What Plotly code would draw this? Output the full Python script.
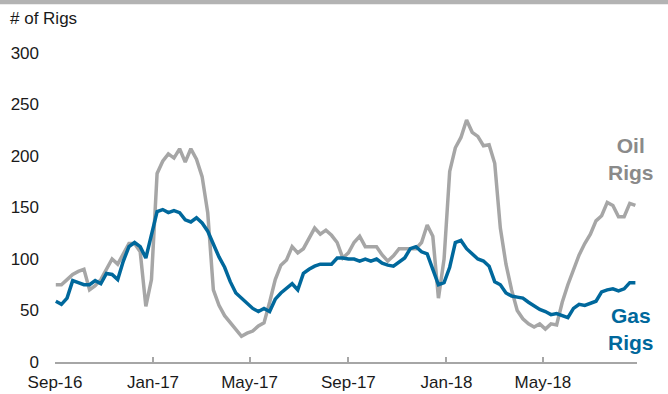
import pandas as pd
import plotly.graph_objects as go

weeks = pd.date_range("2016-09-02", periods=104, freq="7D")

oil_rigs = [
    75, 75, 80, 85, 88, 90, 70, 74, 80, 90, 100, 95, 105, 115, 115, 107, 54, 80,
    183, 195, 202, 198, 207, 194, 207, 197, 180, 145, 70, 55, 45, 38, 32, 25, 28,
    30, 35, 38, 58, 80, 94, 99, 112, 106, 110, 120, 130, 124, 128, 123, 116, 101,
    106, 116, 122, 112, 112, 112, 104, 98, 103, 110, 110, 110, 110, 116, 133, 122,
    62, 100, 185, 208, 218, 235, 223, 219, 210, 211, 193, 130, 95, 70, 50, 42, 37,
    34, 37, 32, 37, 36, 58, 75, 90, 104, 115, 124, 137, 142, 155, 152, 141, 141,
    154, 152,
]

gas_rigs = [
    59, 56, 62, 79, 77, 75, 75, 79, 76, 86, 85, 80, 98, 112, 116, 112, 101, 125,
    146, 148, 145, 147, 145, 138, 136, 140, 135, 127, 114, 102, 92, 78, 67, 62, 56,
    52, 49, 52, 49, 61, 67, 71, 76, 70, 86, 90, 93, 95, 95, 95, 101, 101, 100, 100,
    98, 100, 98, 100, 96, 94, 93, 97, 101, 110, 112, 107, 105, 90, 75, 77, 92, 116,
    118, 110, 105, 100, 98, 93, 78, 75, 67, 64, 63, 62, 58, 54, 51, 49, 46, 47, 45,
    43, 52, 56, 55, 57, 59, 68, 70, 71, 69, 71, 77, 77,
]

y_ticks = [0, 50, 100, 150, 200, 250, 300]
x_ticks = ["2016-09-01", "2017-01-01", "2017-05-01", "2017-09-01", "2018-01-01", "2018-05-01"]
x_labels = ["Sep-16", "Jan-17", "May-17", "Sep-17", "Jan-18", "May-18"]

GRAY = "#A6A6A6"
BLUE = "#00689C"

fig = go.Figure()
fig.add_trace(
    go.Scatter(x=weeks, y=oil_rigs, mode="lines", line=dict(color=GRAY, width=3.5), name="Oil Rigs")
)
fig.add_trace(
    go.Scatter(x=weeks, y=gas_rigs, mode="lines", line=dict(color=BLUE, width=3.5), name="Gas Rigs")
)

# series labels at the right end of the lines
fig.add_annotation(
    x="2018-08-19", y=197, text="<b>Oil<br>Rigs</b>", showarrow=False,
    font=dict(size=21, color="#8A8A8A"), align="center",
)
fig.add_annotation(
    x="2018-08-19", y=32, text="<b>Gas<br>Rigs</b>", showarrow=False,
    font=dict(size=21, color=BLUE), align="center",
)
fig.add_annotation(
    xref="paper", yref="paper", x=-0.08, y=1.113, xanchor="left", yanchor="middle",
    text="# of Rigs", showarrow=False, font=dict(size=17, color="#1a1a1a"),
)
fig.add_shape(
    type="rect", xref="paper", yref="paper", x0=-0.2, x1=1.2, y0=1.158, y1=1.2,
    fillcolor="#B3B3B3", line_width=0,
)

fig.update_layout(
    width=668, height=394,
    margin=dict(l=55, r=31, t=53, b=32),
    paper_bgcolor="white", plot_bgcolor="white",
    font=dict(family="Liberation Sans, Arial, sans-serif", size=17, color="#1a1a1a"),
    showlegend=False,
)
fig.update_xaxes(
    range=["2016-09-01", "2018-08-26"],
    tickvals=x_ticks, ticktext=x_labels,
    showgrid=False, showline=True, linecolor=GRAY, linewidth=2,
    ticks="inside", ticklen=5, tickcolor=GRAY, tickwidth=2,
    zeroline=False, automargin=False, ticklabelstandoff=4,
)
fig.update_yaxes(
    range=[0, 300], tickvals=y_ticks, showgrid=False, showline=False,
    zeroline=False, ticklabelstandoff=15, automargin=False,
)

# drop the page's default body margin so the figure sits at the window's corner
fig.write_html(
    "out.html",
    config={"displayModeBar": False},
    post_script="document.body.style.margin='0';",
)
